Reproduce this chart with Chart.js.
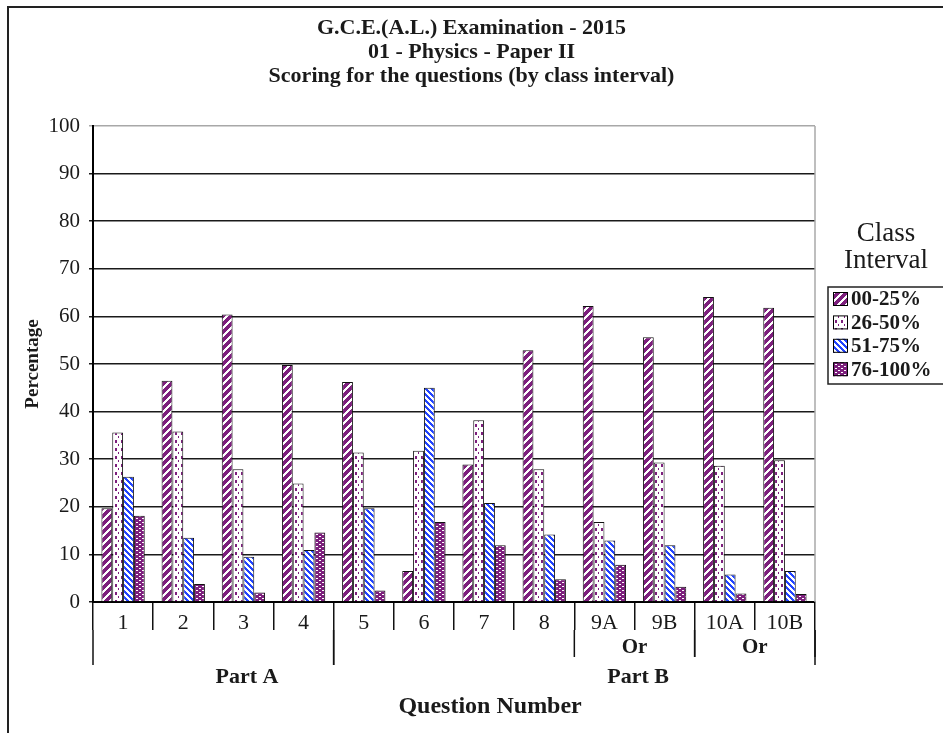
<!DOCTYPE html>
<html>
<head>
<meta charset="utf-8">
<title>G.C.E.(A.L.) 2015 - Physics Paper II</title>
<script src="https://cdn.jsdelivr.net/npm/chart.js@4.4.1/dist/chart.umd.min.js"></script>
<style>
  html, body { margin: 0; padding: 0; background: #fff; }
  #wrap { width: 943px; height: 733px; }
</style>
</head>
<body>
<div id="wrap"><canvas id="scoreChart" width="943" height="733"></canvas></div>
<script>
// Question numbers along the x axis
const questions = ['1', '2', '3', '4', '5', '6', '7', '8', '9A', '9B', '10A', '10B'];
const classIntervals = ['00-25%', '26-50%', '51-75%', '76-100%'];

// Percentage of candidates in each class interval, per question
const band0to25   = [19.7, 46.5, 60.4, 49.8, 46.2, 6.5, 28.9, 52.9, 62.2, 55.6, 64.1, 61.8];
const band26to50  = [35.6, 35.8, 27.9, 24.9, 31.4, 31.8, 38.2, 27.9, 16.8, 29.3, 28.6, 29.8];
const band51to75  = [26.3, 13.5, 9.5, 10.9, 19.7, 45.0, 20.8, 14.2, 12.9, 11.9, 5.8, 6.5];
const band76to100 = [18.1, 3.8, 2.0, 14.6, 2.4, 16.8, 11.9, 4.8, 7.8, 3.2, 1.8, 1.7];

const yTicks = [0, 10, 20, 30, 40, 50, 60, 70, 80, 90, 100];

// Second and third label rows under the question numbers
const orGroups = [
    { label: 'Or', from: 8, to: 9 },
    { label: 'Or', from: 10, to: 11 }
];
const partGroups = [
    { label: 'Part A', from: 0, to: 3 },
    { label: 'Part B', from: 4, to: 11 }
];

const canvas = document.getElementById('scoreChart');
const ctx = canvas.getContext('2d');

const PURPLE = '#7d1f7d';
const BLUE = '#2244ff';
const SERIF = '"Liberation Serif", "Times New Roman", serif';

function makePattern(w, h, paint) {
    const c = document.createElement('canvas');
    c.width = w;
    c.height = h;
    paint(c.getContext('2d'));
    return ctx.createPattern(c, 'repeat');
}

// purple / white diagonal stripes
const stripeUp = makePattern(8, 8, g => {
    g.fillStyle = '#fff';
    g.fillRect(0, 0, 8, 8);
    g.fillStyle = PURPLE;
    for (let x = 0; x < 8; x++) {
        for (let y = 0; y < 8; y++) {
            if ((x + y) % 8 < 5) g.fillRect(x, y, 1, 1);
        }
    }
});

// white with purple dashes in columns
const dashes = makePattern(6, 8, g => {
    g.fillStyle = '#fff';
    g.fillRect(0, 0, 6, 8);
    g.fillStyle = PURPLE;
    g.fillRect(1, 0, 2, 3);
    g.fillRect(4, 4, 1, 2);
});

// blue / white stripes the other way
const stripeDown = makePattern(6, 6, g => {
    g.fillStyle = '#fff';
    g.fillRect(0, 0, 6, 6);
    g.fillStyle = BLUE;
    for (let x = 0; x < 6; x++) {
        for (let y = 0; y < 6; y++) {
            if ((x - y + 12) % 6 < 3) g.fillRect(x, y, 1, 1);
        }
    }
});

// purple with white dots
const dots = makePattern(6, 4, g => {
    g.fillStyle = PURPLE;
    g.fillRect(0, 0, 6, 4);
    g.fillStyle = '#fff';
    g.fillRect(1, 0, 2, 1);
    g.fillRect(4, 2, 2, 1);
});

const fills = [stripeUp, dashes, stripeDown, dots];
const seriesData = [band0to25, band26to50, band51to75, band76to100];

// Extra label rows, outer frame and the legend box
const frameAndAxisPlugin = {
    id: 'frameAndAxis',
    beforeDatasetsDraw(chart) {
        const a = chart.chartArea;
        const c = chart.ctx;
        c.save();
        c.strokeStyle = '#a8a8a8';
        c.lineWidth = 1.5;
        c.beginPath();
        c.moveTo(a.right, a.top);
        c.lineTo(a.right, a.bottom);
        c.stroke();
        c.restore();
    },
    afterDraw(chart) {
        const a = chart.chartArea;
        const c = chart.ctx;
        const xs = chart.scales.x;
        const edge = i => xs.getPixelForValue(i - 0.5);
        const row1 = a.bottom + 28;
        const row2 = a.bottom + 55;
        const row3 = a.bottom + 63;

        c.save();
        c.strokeStyle = '#111';
        c.lineWidth = 1.5;
        const vline = (px, y0, y1) => {
            c.beginPath();
            c.moveTo(px, y0);
            c.lineTo(px, y1);
            c.stroke();
        };
        orGroups.forEach(g => {
            vline(edge(g.from), row1, row2);
            vline(edge(g.to + 1), row1, row2);
        });
        partGroups.forEach(g => {
            vline(edge(g.from), row1, row3);
            vline(edge(g.to + 1), row1, row3);
        });

        c.fillStyle = '#1a1a1a';
        c.textAlign = 'center';
        c.textBaseline = 'middle';
        c.font = 'bold 21px ' + SERIF;
        orGroups.forEach(g => {
            c.fillText(g.label, xs.getPixelForValue((g.from + g.to) / 2), a.bottom + 46);
        });
        // Part labels sit a little right of their group centre, as in the original
        const partAnchor = [2.06, 8.56];
        c.font = 'bold 22px ' + SERIF;
        partGroups.forEach((g, i) => {
            c.fillText(g.label, xs.getPixelForValue(partAnchor[i]), a.bottom + 75);
        });
        c.font = 'bold 24px ' + SERIF;
        c.fillText('Question Number', xs.getPixelForValue(6.1), a.bottom + 105);

        // outer frame
        c.strokeStyle = '#222';
        c.lineWidth = 2;
        c.beginPath();
        c.moveTo(8, chart.height + 5);
        c.lineTo(8, 7);
        c.lineTo(chart.width + 5, 7);
        c.stroke();

        // legend
        const lx = a.right + 13;
        c.font = '27px ' + SERIF;
        c.fillText('Class', a.right + 71, 234);
        c.fillText('Interval', a.right + 71, 261);
        c.lineWidth = 1.5;
        c.strokeRect(lx, 287, 140, 97);
        c.textAlign = 'left';
        c.font = 'bold 21px ' + SERIF;
        chart.data.datasets.forEach((ds, i) => {
            const y = 299 + i * 23.4;
            c.fillStyle = ds.backgroundColor;
            c.fillRect(lx + 5, y - 7, 15, 14);
            c.strokeStyle = '#000';
            c.lineWidth = 1;
            c.strokeRect(lx + 5.5, y - 6.5, 14, 13);
            c.fillStyle = '#1a1a1a';
            c.fillText(ds.label, lx + 23, y + 1);
        });
        c.restore();
    }
};

const scoreChart = new Chart(ctx, {
    type: 'bar',
    data: {
        labels: questions,
        datasets: classIntervals.map((label, i) => ({
            label: label,
            data: seriesData[i],
            backgroundColor: fills[i],
            borderColor: '#111',
            borderWidth: 1
        }))
    },
    options: {
        responsive: false,
        animation: false,
        layout: { padding: 0 },
        datasets: {
            bar: { categoryPercentage: 0.72, barPercentage: 1.0 }
        },
        plugins: {
            legend: { display: false },
            tooltip: { enabled: false },
            title: {
                display: true,
                text: [
                    'G.C.E.(A.L.) Examination - 2015',
                    '01 - Physics - Paper II',
                    'Scoring for the questions (by class interval)'
                ],
                color: '#1a1a1a',
                font: { family: SERIF, size: 22, weight: 'bold', lineHeight: 1.1 },
                padding: { top: 16, bottom: 37.4 }
            }
        },
        scales: {
            x: {
                grid: {
                    offset: true,
                    drawOnChartArea: false,
                    drawTicks: true,
                    tickLength: 28,
                    color: '#111',
                    lineWidth: 1.5
                },
                border: { display: true, color: '#000', width: 2 },
                ticks: {
                    color: '#1a1a1a',
                    font: { family: SERIF, size: 22 },
                    padding: -20,
                    autoSkip: false,
                    maxRotation: 0
                },
                afterFit(scale) { scale.height = 131; }
            },
            y: {
                min: 0,
                max: 100,
                afterBuildTicks(scale) {
                    scale.ticks = yTicks.map(v => ({ value: v }));
                },
                grid: {
                    color: c => (c.tick && c.tick.value === 100 ? '#a8a8a8' : '#1a1a1a'),
                    lineWidth: 1.5,
                    tickLength: 4
                },
                border: { color: '#000', width: 2 },
                ticks: {
                    color: '#1a1a1a',
                    font: { family: SERIF, size: 21 },
                    padding: 9
                },
                title: {
                    display: true,
                    text: 'Percentage',
                    color: '#1a1a1a',
                    font: { family: SERIF, size: 19, weight: 'bold' },
                    padding: { top: 22, bottom: 0 }
                },
                afterFit(scale) { scale.width = 93; }
            },
            // empty axis that keeps room on the right for the legend
            legendRoom: {
                type: 'linear',
                position: 'right',
                grid: { display: false },
                border: { display: false },
                ticks: { display: false },
                afterFit(scale) { scale.width = 128; }
            }
        }
    },
    plugins: [frameAndAxisPlugin]
});
</script>
</body>
</html>
